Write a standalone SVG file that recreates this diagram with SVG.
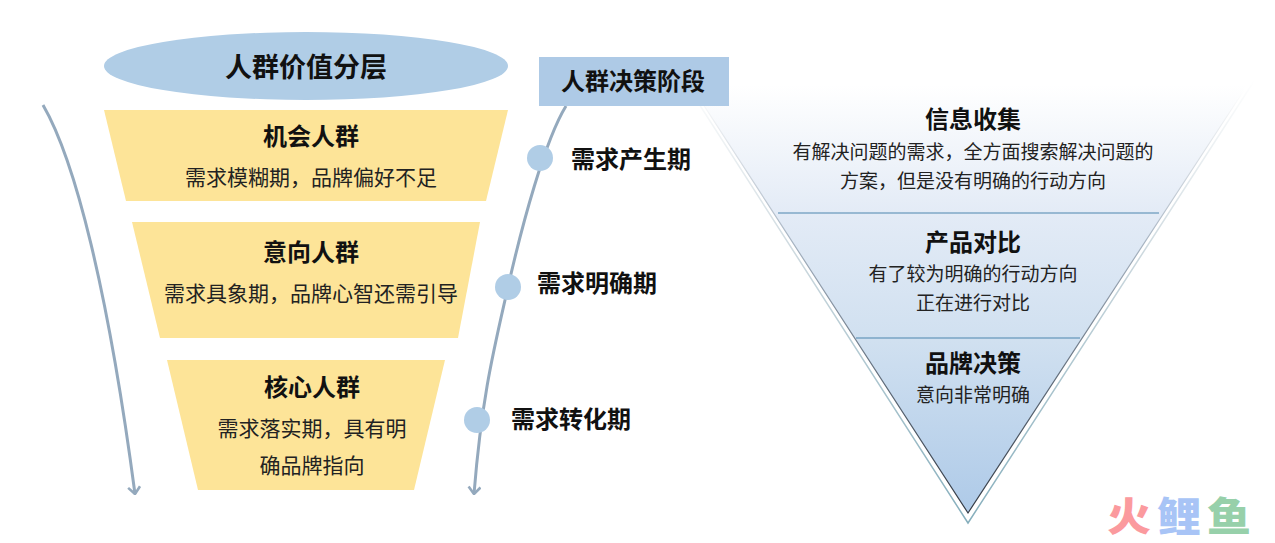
<svg xmlns="http://www.w3.org/2000/svg" width="1275" height="543" viewBox="0 0 1275 543">
<style>
text{font-family:"Noto Sans CJK SC","Noto Sans",sans-serif;fill:#111;text-anchor:middle}
.h{font-size:24px;font-weight:700}
.t{font-size:27px;font-weight:700}
.s{font-size:21px;font-weight:400;fill:#222}
.r{font-size:19px;font-weight:400;fill:#222}
.trap{fill:#fde498}
.dot{fill:#b0cde6}
.flow{fill:none;stroke:#94a9bd;stroke-width:3}
.div{stroke:#4d86ad;stroke-width:1.2}
.wm{font-size:40px;font-weight:900}
</style>
<defs>
<linearGradient id="fill" gradientUnits="userSpaceOnUse" x1="0" y1="85" x2="0" y2="513">
<stop offset="0" stop-color="#ffffff"/><stop offset="0.3" stop-color="#e3ebf6"/><stop offset="0.6" stop-color="#d0e0f0"/><stop offset="1" stop-color="#aecae8"/>
</linearGradient>
<linearGradient id="inner" gradientUnits="userSpaceOnUse" x1="0" y1="90" x2="0" y2="513">
<stop offset="0" stop-color="#ffffff"/><stop offset="0.35" stop-color="#a9b6c4"/><stop offset="0.7" stop-color="#5e6a78"/><stop offset="1" stop-color="#333a44"/>
</linearGradient>
<linearGradient id="outer" gradientUnits="userSpaceOnUse" x1="0" y1="80" x2="0" y2="523">
<stop offset="0" stop-color="#ffffff"/><stop offset="0.4" stop-color="#ccd8de"/><stop offset="1" stop-color="#85aebc"/>
</linearGradient>
<marker id="arrow" viewBox="0 0 14 14" refX="13" refY="7" markerWidth="14" markerHeight="14" markerUnits="userSpaceOnUse" orient="auto">
<path d="M6 1L13 7L6 13" fill="none" stroke="#94a9bd" stroke-width="2.6"/>
</marker>
</defs>

<g id="connectors">
<path class="flow" marker-end="url(#arrow)" d="M43 105C75 160 108 290 135 494"/>
<path class="flow" marker-end="url(#arrow)" d="M566 106C545 140 522 225 508 287S482 395 474 494"/>
</g>

<g id="node-inverted-triangle">
<path d="M687 80L968 513L1250 80Z" fill="url(#fill)"/>
<path d="M690 84L968 513L1248 84" fill="none" stroke="url(#inner)" stroke-width="1.2"/>
<path d="M692 93L968 523L1258 75" fill="none" stroke="url(#outer)" stroke-width="1.5"/>
<line class="div" x1="778" y1="213" x2="1159" y2="213"/>
<line class="div" x1="856" y1="338" x2="1080" y2="338"/>
</g>

<g id="node-title">
<ellipse cx="306" cy="66" rx="202" ry="34" fill="#b0cde6"/>
<text class="t" x="306" y="77">人群价值分层</text>
</g>

<g id="node-opportunity">
<path class="trap" d="M104 110H508L486 201H126Z"/>
<text class="h" x="311" y="145">机会人群</text>
<text class="s" x="311" y="185">需求模糊期，品牌偏好不足</text>
</g>
<g id="node-intent">
<path class="trap" d="M132 222H480L458 338H160Z"/>
<text class="h" x="311" y="261">意向人群</text>
<text class="s" x="311" y="301">需求具象期，品牌心智还需引导</text>
</g>
<g id="node-core">
<path class="trap" d="M167 360H445L414 490H198Z"/>
<text class="h" x="312" y="396">核心人群</text>
<text class="s" x="312" y="436">需求落实期，具有明</text>
<text class="s" x="312" y="473">确品牌指向</text>
</g>

<g id="node-stage-title">
<rect x="539" y="57" width="190" height="49" fill="#aecae6"/>
<text class="h" x="633" y="90">人群决策阶段</text>
</g>

<g id="node-stage-1">
<circle class="dot" cx="540" cy="158" r="13"/>
<text class="h" x="631" y="168">需求产生期</text>
</g>
<g id="node-stage-2">
<circle class="dot" cx="508" cy="287" r="13"/>
<text class="h" x="597" y="292">需求明确期</text>
</g>
<g id="node-stage-3">
<circle class="dot" cx="477" cy="420" r="13"/>
<text class="h" x="571" y="428">需求转化期</text>
</g>

<g id="node-info">
<text class="h" x="973" y="128">信息收集</text>
<text class="r" x="973" y="159">有解决问题的需求，全方面搜索解决问题的</text>
<text class="r" x="973" y="188">方案，但是没有明确的行动方向</text>
</g>
<g id="node-compare">
<text class="h" x="973" y="251">产品对比</text>
<text class="r" x="973" y="281">有了较为明确的行动方向</text>
<text class="r" x="973" y="310">正在进行对比</text>
</g>
<g id="node-decision">
<text class="h" x="973" y="372">品牌决策</text>
<text class="r" x="973" y="402">意向非常明确</text>
</g>

<g id="watermark">
<text class="wm" transform="translate(1129 531) scale(1.1 1)" style="fill:#fb9a9e">火</text>
<text class="wm" transform="translate(1179 531) scale(1.1 1)" style="fill:#a8c4f6">鲤</text>
<text class="wm" transform="translate(1229 531) scale(1.1 1)" style="fill:#97d0aa">鱼</text>
</g>
</svg>
